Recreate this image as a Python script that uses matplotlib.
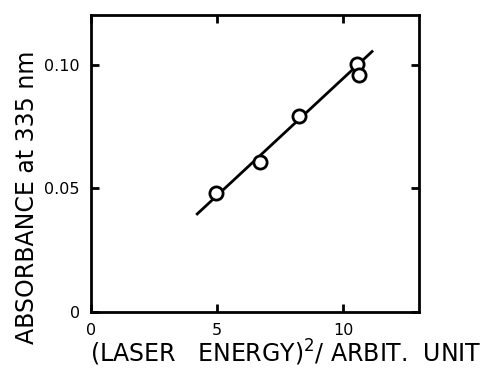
import matplotlib
matplotlib.use("Agg")
import matplotlib.pyplot as plt

plt.rcParams['font.family'] = ['DejaVu Sans']
plt.rcParams['mathtext.fontset'] = 'dejavusans'

x_pts = [4.95, 6.71, 8.25, 10.54, 10.62]
y_pts = [0.048, 0.0606, 0.0794, 0.1003, 0.0958]
fit_x = [4.17, 11.18]
fit_y = [0.0393, 0.1058]
xticks = [0, 5, 10]
xticklabels = ['0', '5', '10']
yticks = [0, 0.05, 0.10]
yticklabels = ['0', '0.05', '0.10']

fig = plt.figure(figsize=(4.98, 3.70), dpi=100)
ax = fig.add_axes([91/498, 1-312/370, (419-91)/498, (312-15)/370])
ax.plot(fit_x, fit_y, color='black', lw=2.0, solid_capstyle='butt')
ax.plot(x_pts, y_pts, 'o', ms=9.5, mfc='white', mec='black', mew=2.0)
ax.set_xlim(0, 13.0)
ax.set_ylim(0, 0.1202)
ax.set_xticks(xticks)
ax.set_xticklabels(xticklabels)
ax.set_yticks(yticks)
ax.set_yticklabels(yticklabels)
for s in ax.spines.values():
    s.set_linewidth(2.0)
ax.tick_params(direction='in', length=6, width=2.0, top=True, right=True, labelsize=11.5)
ax.tick_params(axis='x', pad=8)
ax.tick_params(axis='y', pad=8)
ax.set_xlabel('(LASER   ENERGY)$^{2}$/ ARBIT.  UNIT', fontsize=17)
ax.xaxis.set_label_coords(-0.003, -0.168)
ax.xaxis.label.set_horizontalalignment('left')
ax.xaxis.label.set_verticalalignment('baseline')
ax.set_ylabel('ABSORBANCE at 335 nm', fontsize=17)
ax.yaxis.set_label_coords(-0.195, 0.387)
ax.yaxis.label.set_horizontalalignment('center')
ax.yaxis.label.set_verticalalignment('center')
fig.savefig('out.png', dpi=100)
